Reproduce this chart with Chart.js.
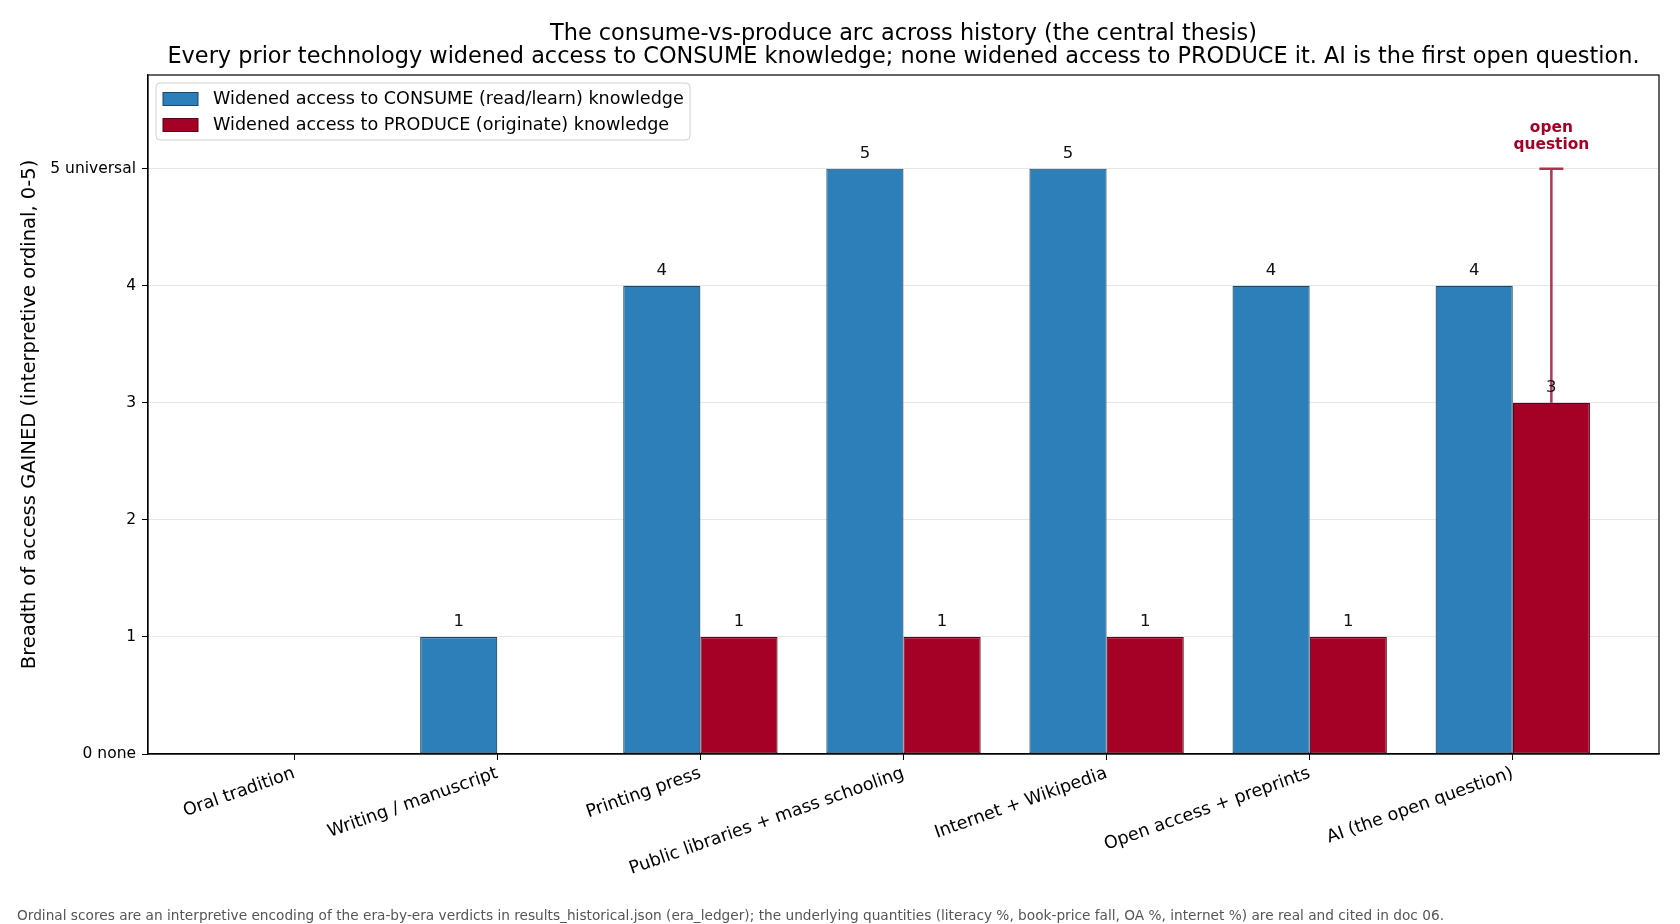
<!DOCTYPE html>
<html>
<head>
<meta charset="utf-8">
<title>The consume-vs-produce arc across history</title>
<script src="https://cdn.jsdelivr.net/npm/chart.js@4.4.1/dist/chart.umd.min.js"></script>
<style>
  html, body { margin: 0; padding: 0; background: #fff; }
  #chart { display: block; }
</style>
</head>
<body>
<canvas id="chart" width="1680" height="924"></canvas>
<script>
// eras, oldest to newest
const eras = ['Oral tradition', 'Writing / manuscript', 'Printing press', 'Public libraries + mass schooling',
              'Internet + Wikipedia', 'Open access + preprints', 'AI (the open question)'];

// interpretive ordinal scores (0 none .. 5 universal)
const consumeScores = [0, 1, 4, 5, 5, 4, 4];
const produceScores = [0, 0, 1, 1, 1, 1, 3];

// AI produce score is open: could run from 3 up to 5
const openIndex = 6;
const openLow = 3;
const openHigh = 5;
const openLabelY = 5.14;

const yTickValues = [0, 1, 2, 3, 4, 5];
const yTickLabels = ['0 none', '1', '2', '3', '4', '5 universal'];

const titleLines = [
  'The consume-vs-produce arc across history (the central thesis)',
  'Every prior technology widened access to CONSUME knowledge; none widened access to PRODUCE it. AI is the first open question.'
];
const footnote = 'Ordinal scores are an interpretive encoding of the era-by-era verdicts in results_historical.json (era_ledger); the underlying quantities (literacy %, book-price fall, OA %, internet %) are real and cited in doc 06.';

const BLUE = '#2c7fb8';
const RED = '#a50026';
const BLUE_EDGE = '#1d4766';
const RED_EDGE = '#5a0017';
const FONT = "'DejaVu Sans', sans-serif";

function toPoints(values) {
  return values.map((v, i) => ({ x: i, y: v }));
}

// titles, legend, footnote, frame, open-question bar and value labels
const extras = {
  id: 'extras',
  afterDraw(chart) {
    const ctx = chart.ctx;
    const area = chart.chartArea;
    const xs = chart.scales.x;
    const ys = chart.scales.y;
    ctx.save();

    // frame round the plot
    ctx.strokeStyle = '#000';
    ctx.lineWidth = 1.2;
    ctx.strokeRect(area.left, area.top, area.right - area.left, area.bottom - area.top);

    // title, centred over the plot
    const cx = (area.left + area.right) / 2;
    ctx.fillStyle = '#000';
    ctx.font = '22.4px ' + FONT;
    ctx.textAlign = 'center';
    ctx.textBaseline = 'middle';
    ctx.fillText(titleLines[0], cx, 34);
    ctx.fillText(titleLines[1], cx, 57);

    // open question range on the AI produce bar
    const ex = xs.getPixelForValue(openIndex) + xs.getPixelForValue(0.19) - xs.getPixelForValue(0);
    const yLo = ys.getPixelForValue(openLow);
    const yHi = ys.getPixelForValue(openHigh);
    ctx.strokeStyle = 'rgba(165,0,38,0.8)';
    ctx.lineWidth = 2.5;
    ctx.beginPath();
    ctx.moveTo(ex, yLo); ctx.lineTo(ex, yHi);
    ctx.moveTo(ex - 12, yHi); ctx.lineTo(ex + 12, yHi);
    ctx.stroke();
    ctx.fillStyle = RED;
    ctx.font = 'bold 15.4px ' + FONT;
    ctx.textBaseline = 'bottom';
    const ly = ys.getPixelForValue(openLabelY);
    ctx.fillText('question', ex, ly);
    ctx.fillText('open', ex, ly - 17);

    // value labels above bars
    ctx.fillStyle = '#111';
    ctx.font = '16.5px ' + FONT;
    chart.data.datasets.forEach((ds, di) => {
      chart.getDatasetMeta(di).data.forEach((bar, i) => {
        const v = ds.data[i].y;
        if (v > 0) ctx.fillText(String(v), bar.x, bar.y - 7);
      });
    });

    // legend box, upper left inside the plot
    const lx = area.left + 8, ly0 = area.top + 8;
    const lw = 534, lh = 57;
    ctx.fillStyle = 'rgba(255,255,255,0.85)';
    ctx.strokeStyle = '#d0d0d0';
    ctx.lineWidth = 1;
    ctx.beginPath();
    ctx.roundRect(lx, ly0, lw, lh, 4);
    ctx.fill(); ctx.stroke();
    ctx.font = '17.6px ' + FONT;
    ctx.textAlign = 'left';
    ctx.textBaseline = 'middle';
    chart.data.datasets.forEach((ds, di) => {
      const ry = ly0 + 16 + di * 26;
      ctx.fillStyle = ds.backgroundColor;
      ctx.fillRect(lx + 7, ry - 6.5, 35, 13);
      ctx.strokeStyle = ds.borderColor;
      ctx.strokeRect(lx + 7, ry - 6.5, 35, 13);
      ctx.fillStyle = '#000';
      ctx.fillText(ds.label, lx + 57, ry);
    });

    // footnote
    ctx.fillStyle = '#555';
    ctx.font = '13.7px ' + FONT;
    ctx.textAlign = 'left';
    ctx.textBaseline = 'middle';
    ctx.fillText(footnote, 17, 916);

    ctx.restore();
  }
};

new Chart(document.getElementById('chart'), {
  type: 'bar',
  data: {
    datasets: [
      {
        label: 'Widened access to CONSUME (read/learn) knowledge',
        data: toPoints(consumeScores),
        backgroundColor: BLUE,
        borderColor: BLUE_EDGE,
        borderWidth: 1.2,
        borderSkipped: false
      },
      {
        label: 'Widened access to PRODUCE (originate) knowledge',
        data: toPoints(produceScores),
        backgroundColor: RED,
        borderColor: RED_EDGE,
        borderWidth: 1.2,
        borderSkipped: false
      }
    ]
  },
  options: {
    responsive: false,
    animation: false,
    devicePixelRatio: 1,
    categoryPercentage: 0.76,
    barPercentage: 1.0,
    layout: { padding: { top: 75, right: 21, left: 0, bottom: 0 } },
    plugins: {
      legend: { display: false },
      tooltip: { enabled: false }
    },
    scales: {
      x: {
        type: 'linear',
        min: -0.72,
        max: 6.72,
        offset: false,
        afterBuildTicks: (scale) => { scale.ticks = eras.map((e, i) => ({ value: i })); },
        afterFit: (scale) => { scale.height = 170; },
        grid: { display: true, drawOnChartArea: false, drawTicks: true, tickLength: 6, tickColor: '#000', offset: false },
        border: { color: '#000', width: 1.2 },
        ticks: {
          autoSkip: false,
          minRotation: 19.5,
          maxRotation: 19.5,
          padding: 3,
          color: '#000',
          font: { family: FONT, size: 17.6 },
          callback: (v) => eras[v]
        }
      },
      y: {
        min: 0,
        max: 5.8,
        z: 1,
        afterBuildTicks: (scale) => { scale.ticks = yTickValues.map(v => ({ value: v })); },
        afterFit: (scale) => { scale.width = 148; },
        grid: { color: 'rgba(176,176,176,0.3)', lineWidth: 1, tickColor: '#000', tickLength: 6 },
        border: { color: '#000', width: 1.2 },
        ticks: {
          padding: 6,
          color: '#000',
          font: { family: FONT, size: 15.5 },
          callback: (v) => yTickLabels[yTickValues.indexOf(v)]
        },
        title: {
          display: true,
          text: 'Breadth of access GAINED (interpretive ordinal, 0-5)',
          color: '#000',
          font: { family: FONT, size: 19.5 },
          padding: { top: 18, bottom: 0 }
        }
      }
    }
  },
  plugins: [extras]
});
</script>
</body>
</html>
